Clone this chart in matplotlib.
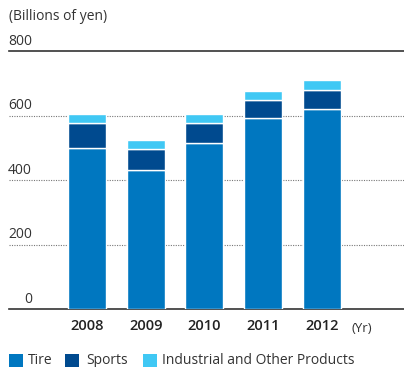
import matplotlib
matplotlib.use("Agg")
import matplotlib.pyplot as plt
import matplotlib.transforms as mtransforms
from matplotlib.patches import Rectangle
import numpy as np

plt.rcParams['font.family'] = ['Open Sans', 'DejaVu Sans']

# net sales by segment, billions of yen
years = ["2008", "2009", "2010", "2011", "2012"]
tire = [500, 432, 514, 591, 619]
sports = [76, 65, 62, 57, 60]
industrial = [29, 26, 29, 28, 31]

segments = ["Tire", "Sports", "Industrial and Other Products"]
colors = ["#0077c0", "#004a8f", "#40c8f4"]
yticks = [0, 200, 400, 600, 800]

W, H = 404, 367
fig = plt.figure(figsize=(W / 100, H / 100), dpi=100)

# axes box in pixel terms
left, right, bottom, top = 9, 404, 309, 51
ax = fig.add_axes([left / W, (H - bottom) / H, (right - left) / W, (bottom - top) / H])

x = np.arange(len(years))
bw = 0.65
tire = np.array(tire)
sports = np.array(sports)
industrial = np.array(industrial)

ax.bar(x, tire, bw, color=colors[0], edgecolor="white", linewidth=1, zorder=3)
ax.bar(x, sports, bw, bottom=tire, color=colors[1], edgecolor="white", linewidth=1, zorder=3)
ax.bar(x, industrial, bw, bottom=tire + sports, color=colors[2], edgecolor="white", linewidth=1, zorder=3)

ax.set_xlim(-1.329, 5.40)
ax.set_ylim(0, 800)

for s in ["left", "right"]:
    ax.spines[s].set_visible(False)
ax.spines["bottom"].set_color("#333333")
ax.spines["top"].set_color("#333333")
ax.spines["bottom"].set_linewidth(1.2)
ax.spines["top"].set_linewidth(1.2)

# dotted gridlines between the solid top and bottom rules
for v in yticks[1:-1]:
    ax.axhline(v, color="#777777", linestyle=(0, (1, 1.2)), linewidth=0.8, zorder=1)

ax.set_yticks([])
ax.set_xticks(x)
ax.set_xticklabels(years, fontsize=10.5, fontweight="semibold", color="#222222")
ax.tick_params(axis="x", length=0, pad=7)

# y labels sit above their gridline, right-aligned
trans = mtransforms.blended_transform_factory(ax.transAxes, ax.transData)
for v in yticks:
    ax.text((32 - left) / (right - left), v + 20, str(v), transform=trans,
            ha="right", va="baseline", fontsize=10, color="#333333")

ax.text(4.68, -0.05, "(Yr)", transform=mtransforms.blended_transform_factory(ax.transData, ax.transAxes),
        ha="center", va="top", fontsize=9.5, color="#333333")

fig.text(9 / W, 1 - 17 / H, "(Billions of yen)", ha="left", va="center", fontsize=10, color="#333333")

# legend drawn by hand along the bottom edge
sq_x = [9, 65, 143]
txt_x = [28, 86, 162]
for sx, tx, lab, c in zip(sq_x, txt_x, segments, colors):
    fig.patches.append(Rectangle((sx / W, 0), 14 / W, 13 / H, transform=fig.transFigure,
                                 facecolor=c, edgecolor="none"))
    fig.text(tx / W, 1 - 360 / H, lab, ha="left", va="center", fontsize=10, color="#333333")

fig.savefig("out.png", dpi=100)
